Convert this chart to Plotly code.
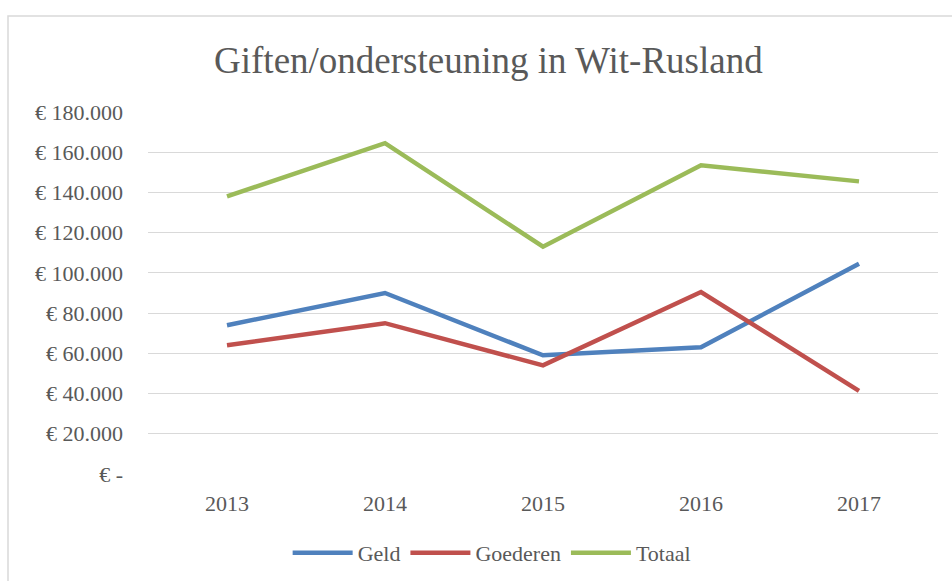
import plotly.graph_objects as go

years = ["2013", "2014", "2015", "2016", "2017"]
geld = [74000, 90000, 59000, 63000, 104500]
goederen = [64000, 75000, 54000, 90500, 41300]
totaal = [138000, 164500, 113000, 153500, 145500]

y_tickvals = [0, 20000, 40000, 60000, 80000, 100000, 120000, 140000, 160000, 180000]
y_ticktext = ["€ -", "€ 20.000", "€ 40.000", "€ 60.000", "€ 80.000", "€ 100.000",
              "€ 120.000", "€ 140.000", "€ 160.000", "€ 180.000"]

FONT = "Liberation Serif, Times New Roman, DejaVu Serif, serif"
GREY = "#595959"

fig = go.Figure()
for name, vals, col in [("Geld", geld, "#4F81BD"),
                        ("Goederen", goederen, "#C0504D"),
                        ("Totaal", totaal, "#9BBB59")]:
    fig.add_trace(go.Scatter(x=years, y=vals, name=name, mode="lines",
                             line=dict(color=col, width=4.5)))

W, H = 952, 581
L, R, T, B = 148, 14, 112, 107
pw, ph = W - L - R, H - T - B

fig.update_layout(
    width=W, height=H,
    margin=dict(l=L, r=R, t=T, b=B, autoexpand=False),
    paper_bgcolor="white", plot_bgcolor="white",
    title=dict(text="Giften/ondersteuning in Wit-Rusland",
               font=dict(family=FONT, size=37, color=GREY),
               x=0.513, xanchor="center", y=1 - 60 / H, yanchor="middle"),
    font=dict(family=FONT, size=22, color=GREY),
    legend=dict(orientation="h", x=0.435, xanchor="center",
                y=(0 - (553 - (T + ph))) / ph, yanchor="middle",
                font=dict(family=FONT, size=22, color=GREY),
                itemwidth=60, bgcolor="rgba(0,0,0,0)"),
    xaxis=dict(showgrid=False, showline=False, zeroline=False,
               range=[-0.5, 4.5],
               ticks="", ticklabelstandoff=14,
               tickfont=dict(family=FONT, size=22, color=GREY)),
    yaxis=dict(range=[0, 180000], tickvals=y_tickvals, ticktext=y_ticktext,
               showgrid=True, gridcolor="#D9D9D9", gridwidth=1.3,
               zeroline=False, showline=False, ticks="",
               ticklabelstandoff=24,
               tickfont=dict(family=FONT, size=22, color=GREY)),
    showlegend=True,
)

# chart border (Excel-style frame)
fig.add_shape(type="rect", xref="paper", yref="paper",
              x0=(8 - L) / pw, x1=(W + 20 - L) / pw,
              y0=(T + ph - (H + 20)) / ph, y1=(T + ph - 16) / ph,
              line=dict(color="#D9D9D9", width=1.5), fillcolor="rgba(0,0,0,0)",
              layer="below")

fig.write_html("out.html", config={"displayModeBar": False},
               post_script="document.body.style.margin='0';document.body.style.overflow='hidden';")
